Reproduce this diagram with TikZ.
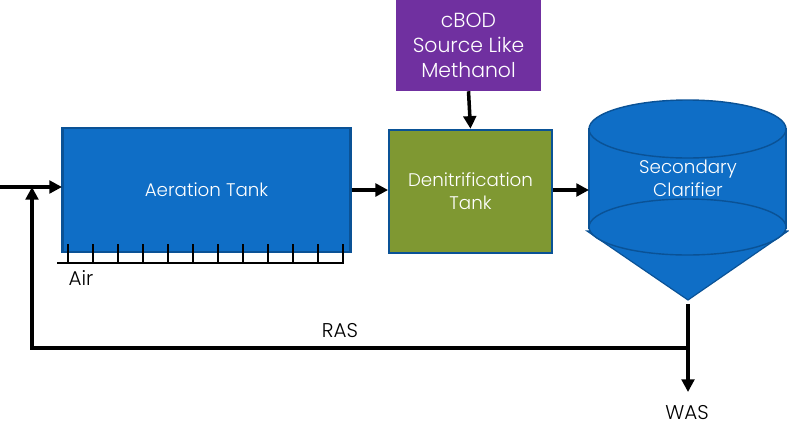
\documentclass[tikz,border=0pt]{standalone}
\usepackage{fontspec}
\setmainfont{Poppins Light}
\usetikzlibrary{
  arrows.meta,
  positioning
}
\definecolor{tank}{RGB}{15,110,198}
\definecolor{edge}{RGB}{10,82,150}
\definecolor{denit}{RGB}{127,152,50}
\definecolor{source}{RGB}{112,48,160}

\begin{document}
\begin{tikzpicture}[
  x=0.03cm, y=-0.03cm,
  every node/.style={font=\fontsize{15.6}{19.5}\selectfont},
  block/.style={draw=edge, line width=1.8pt, text=white, align=center},
  flow/.style={-{Triangle[length=0.38cm, width=0.38cm]}, line width=3pt, black},
  rack/.style={line width=1.5pt, black},
  tag/.style={font=\fontsize{17}{20}\selectfont}
]
\useasboundingbox (0,0) rectangle (789,439);

\node[block, fill=tank, minimum width=8.64cm, minimum height=3.74cm]
  (aer) at (206.5,190) {Aeration Tank};

\node[block, fill=denit, minimum width=4.88cm, minimum height=3.7cm]
  (den) at (470.5,191.5) {Denitrification\\Tank};

\node[fill=source, text=white, align=center, inner sep=0pt,
      font=\fontsize{17.4}{21.5}\selectfont,
      minimum width=4.35cm, minimum height=2.73cm]
  (cbod) at (468.5,45.5) {cBOD\\Source Like\\Methanol};

% Clarifier body
\draw[draw=edge, fill=tank, line width=1pt] (587,231) -- (688,300) -- (788,231) -- cycle;
\draw[draw=edge, fill=tank, line width=1pt] (589,129) -- (589,228) -- (786,228) -- (786,129) -- cycle;
\draw[draw=edge, fill=tank, line width=1.2pt] (687.5,129) ellipse (98.5 and 29);
\draw[draw=edge, fill=tank, line width=1.2pt] (687.5,227) ellipse (98.5 and 28);

\node[text=white, align=center] (clar) at (688,178) {Secondary\\Clarifier};

\coordinate (inlet) at (0,187);
\coordinate (clarin) at (589,190);
\coordinate (clarout) at (688,304);
\coordinate (split) at (688,348);
\coordinate (bend) at (32,348);
\coordinate (merge) at (32,187);
\coordinate (wasend) at (688,392);
\coordinate (aerin) at (62,187);
\coordinate (rackl) at (57,263);
\coordinate (rackr) at (344,263);

\draw[flow] (inlet) -- (aerin);
\draw[flow] (split) -- (bend) -- (merge);
\draw[flow] (clarout) -- (wasend);
\draw[flow] (aer.east |- clarin) -- (den.west |- clarin);
\draw[flow] (den.east |- clarin) -- (clarin);
\draw[flow] (cbod.south) -- (den.north);

% Air header
\draw[line width=2.2pt] (rackl) -- (rackr);
\foreach \i in {0,...,11} {
  \draw[rack] (68 + \i*25,244) -- (68 + \i*25,263);
}

\node[tag] (air) at (81,278) {Air};
\node[tag] (ras) at (340,331) {RAS};
\node[tag] (was) at (687,413) {WAS};

\end{tikzpicture}
\end{document}
